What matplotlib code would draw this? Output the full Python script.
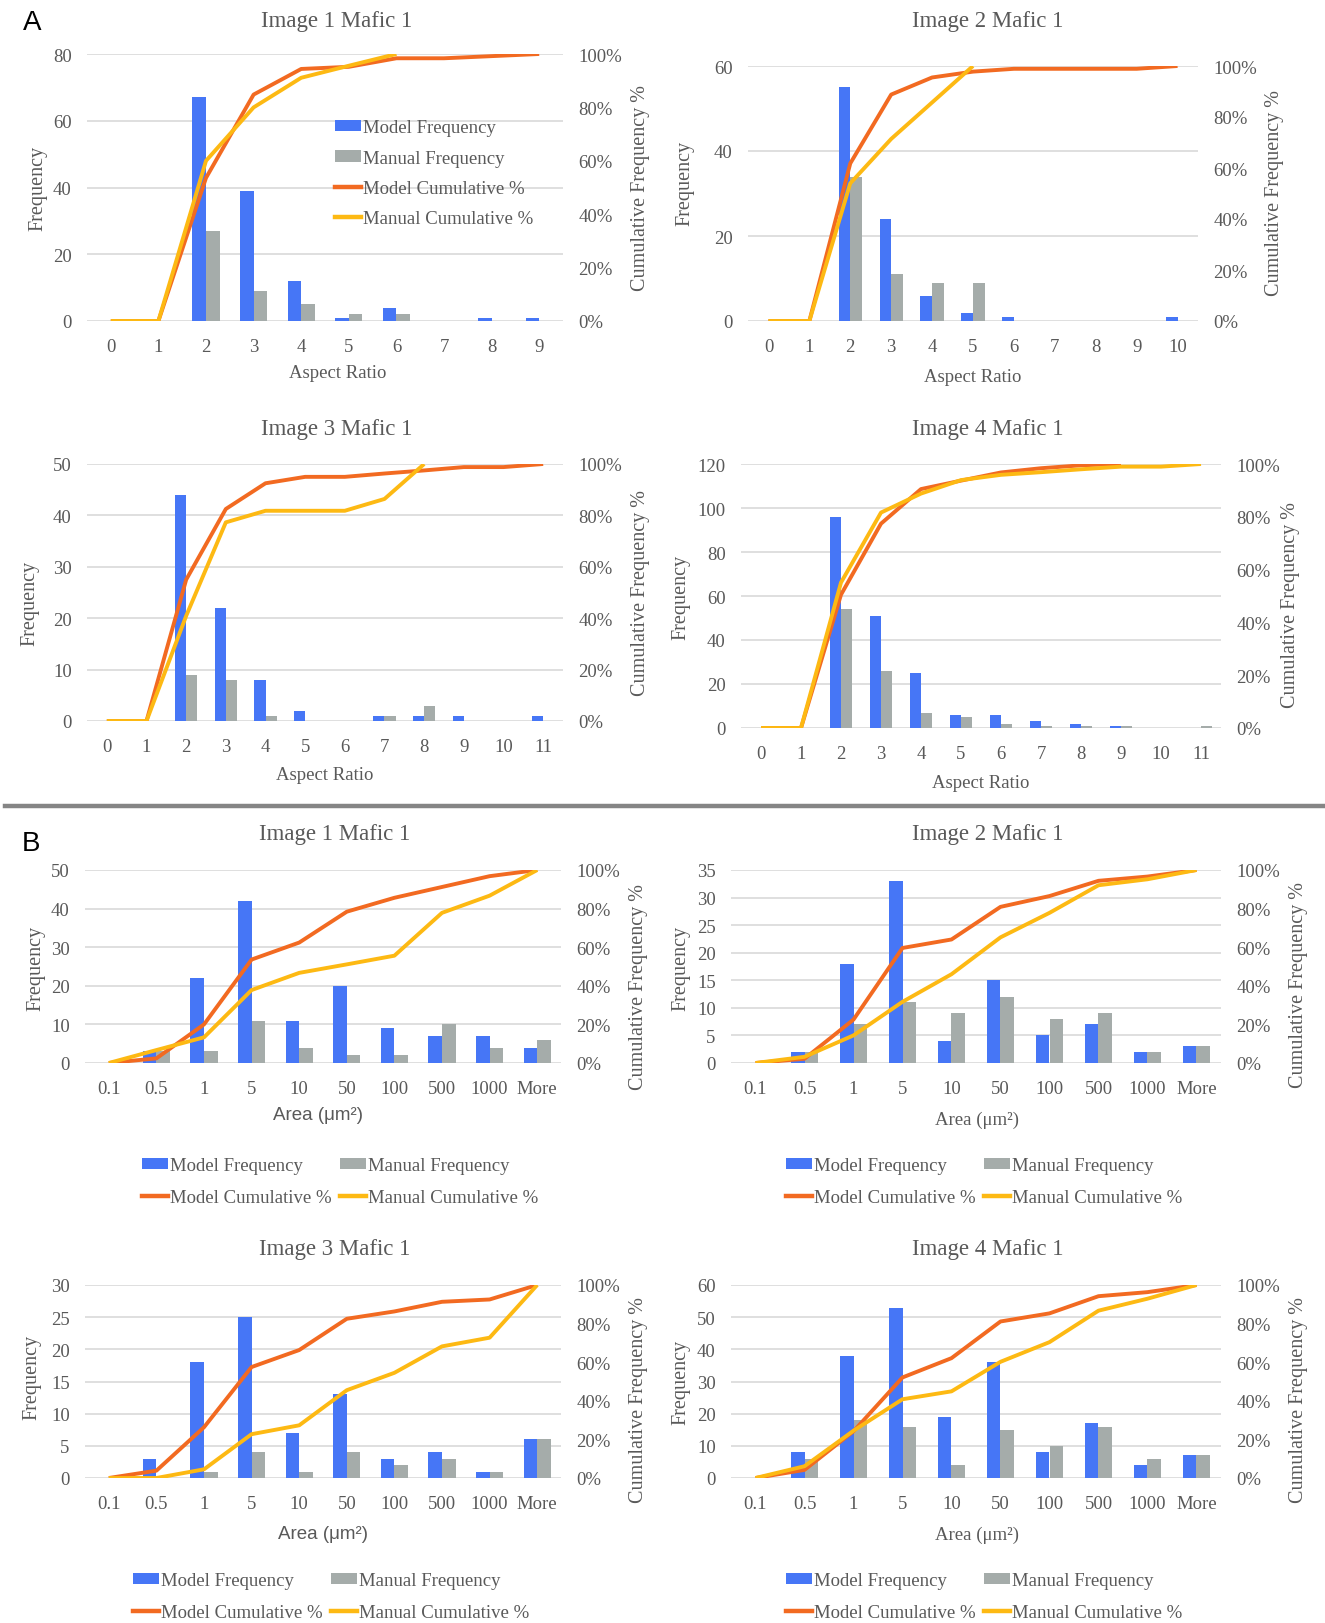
import matplotlib
matplotlib.use('Agg')
from matplotlib import pyplot as plt
from matplotlib.lines import Line2D
from matplotlib.patches import Patch

# Figure size in pixels (dpi 100)
W, H = 1325, 1624

# Colours
BLUE = '#4676F6'
GREY = '#A5ACAA'
ORANGE = '#F26A21'
YELLOW = '#FDB913'
TXT = '#595959'
GRID = '#D9D9D9'

SERIF = 'Liberation Serif'
SANS = 'Liberation Sans'

# Aspect ratio histograms (part A)
a1_cats = ['0', '1', '2', '3', '4', '5', '6', '7', '8', '9']
a1_model = [0, 0, 67, 39, 12, 1, 4, 0, 1, 1]
a1_manual = [0, 0, 27, 9, 5, 2, 2, 0, 0, 0]
a1_model_cum = [0, 0, 53.6, 84.8, 94.4, 95.2, 98.4, 98.4, 99.2, 100]
a1_manual_cum = [0, 0, 60.0, 80.0, 91.1, 95.6, 100]

a2_cats = ['0', '1', '2', '3', '4', '5', '6', '7', '8', '9', '10']
a2_model = [0, 0, 55, 24, 6, 2, 1, 0, 0, 0, 1]
a2_manual = [0, 0, 34, 11, 9, 9, 0, 0, 0, 0, 0]
a2_model_cum = [0, 0, 61.8, 88.8, 95.5, 97.8, 98.9, 98.9, 98.9, 98.9, 100]
a2_manual_cum = [0, 0, 54.0, 71.4, 85.7, 100]

a3_cats = ['0', '1', '2', '3', '4', '5', '6', '7', '8', '9', '10', '11']
a3_model = [0, 0, 44, 22, 8, 2, 0, 1, 1, 1, 0, 1]
a3_manual = [0, 0, 9, 8, 1, 0, 0, 1, 3, 0, 0, 0]
a3_model_cum = [0, 0, 55.0, 82.5, 92.5, 95.0, 95.0, 96.3, 97.5, 98.8, 98.8, 100]
a3_manual_cum = [0, 0, 40.9, 77.3, 81.8, 81.8, 81.8, 86.4, 100]

a4_cats = ['0', '1', '2', '3', '4', '5', '6', '7', '8', '9', '10', '11']
a4_model = [0, 0, 96, 51, 25, 6, 6, 3, 2, 1, 0, 0]
a4_manual = [0, 0, 54, 26, 7, 5, 2, 1, 1, 1, 0, 1]
a4_model_cum = [0, 0, 50.5, 77.4, 90.5, 93.7, 96.8, 98.4, 99.5, 100]
a4_manual_cum = [0, 0, 55.1, 81.6, 88.8, 93.9, 95.9, 96.9, 98.0, 99.0, 99.0, 100]

# Area histograms (part B)
area_cats = ['0.1', '0.5', '1', '5', '10', '50', '100', '500', '1000', 'More']

b1_model = [0, 3, 22, 42, 11, 20, 9, 7, 7, 4]
b1_manual = [0, 3, 3, 11, 4, 2, 2, 10, 4, 6]
b1_model_cum = [0, 2.4, 20.0, 53.6, 62.4, 78.4, 85.6, 91.2, 96.8, 100]
b1_manual_cum = [0, 6.7, 13.3, 37.8, 46.7, 51.1, 55.6, 77.8, 86.7, 100]

b2_model = [0, 2, 18, 33, 4, 15, 5, 7, 2, 3]
b2_manual = [0, 2, 7, 11, 9, 12, 8, 9, 2, 3]
b2_model_cum = [0, 2.2, 22.5, 59.6, 64.0, 80.9, 86.5, 94.4, 96.6, 100]
b2_manual_cum = [0, 3.2, 14.3, 31.7, 46.0, 65.1, 77.8, 92.1, 95.2, 100]

b3_model = [0, 3, 18, 25, 7, 13, 3, 4, 1, 6]
b3_manual = [0, 0, 1, 4, 1, 4, 2, 3, 1, 6]
b3_model_cum = [0, 3.8, 26.3, 57.5, 66.3, 82.5, 86.3, 91.3, 92.5, 100]
b3_manual_cum = [0, 0, 4.5, 22.7, 27.3, 45.5, 54.5, 68.2, 72.7, 100]

b4_model = [0, 8, 38, 53, 19, 36, 8, 17, 4, 7]
b4_manual = [0, 6, 18, 16, 4, 15, 10, 16, 6, 7]
b4_model_cum = [0, 4.2, 24.2, 52.1, 62.1, 81.1, 85.3, 94.2, 96.3, 100]
b4_manual_cum = [0, 6.1, 24.5, 40.8, 44.9, 60.2, 70.4, 86.7, 92.9, 100]

LABELS = ['Model Frequency', 'Manual Frequency', 'Model Cumulative %', 'Manual Cumulative %']

TICK_FS = 13.5
LABEL_FS = 13.5
TITLE_FS = 16.5
VLABEL_FS = 14.5
LEG_FS = 13.5

fig = plt.figure(figsize=(W / 100, H / 100), dpi=100)


def fx(x):
    return x / W


def fy(y):
    return 1 - y / H


def put_text(x, y, s, size, family=SERIF, rot=0, color=TXT):
    fig.text(fx(x), fy(y), s, ha='center', va='center', fontsize=size,
             family=family, rotation=rot, color=color)


def legend_handles():
    return [Patch(facecolor=BLUE), Patch(facecolor=GREY),
            Line2D([], [], color=ORANGE, lw=3.2),
            Line2D([], [], color=YELLOW, lw=3.2)]


LEG_KW = dict(frameon=False, borderpad=0, borderaxespad=0, handlelength=1.4,
              handleheight=0.55, handletextpad=0.1,
              prop={'family': SERIF, 'size': LEG_FS}, labelcolor=TXT)


# Draws one histogram panel: grouped bars + cumulative % lines on a twin axis
def panel(box, cats, model, manual, model_cum, manual_cum, ymax, ystep,
          title, title_xy, xlabel, xlabel_xy, xlabel_family, ylab_xy, cum_xy):
    l, t, r, b = box
    ax = fig.add_axes([fx(l), fy(b), (r - l) / W, (b - t) / H])
    n = len(cats)
    w = 0.285
    xs = list(range(n))
    ax.bar([x - w / 2 for x in xs], model, width=w, color=BLUE, zorder=2)
    ax.bar([x + w / 2 for x in xs], manual, width=w, color=GREY, zorder=2)
    ax.set_xlim(-0.5, n - 0.5)
    ax.set_ylim(0, ymax)
    ax.set_yticks(list(range(0, ymax + 1, ystep)))
    ax.set_xticks(xs)
    ax.set_xticklabels(cats)
    ax.grid(axis='y', color=GRID, lw=1.2)
    ax.set_axisbelow(True)
    ax.tick_params(length=0, labelsize=TICK_FS, labelcolor=TXT)
    ax.tick_params(axis='x', pad=12)
    ax.tick_params(axis='y', pad=11)
    for s in ax.spines.values():
        s.set_visible(False)
    for lab in ax.get_xticklabels() + ax.get_yticklabels():
        lab.set_family(SERIF)

    ax2 = ax.twinx()
    ax2.plot(range(len(model_cum)), model_cum, color=ORANGE, lw=2.8,
             solid_joinstyle='round', solid_capstyle='butt')
    ax2.plot(range(len(manual_cum)), manual_cum, color=YELLOW, lw=2.8,
             solid_joinstyle='round', solid_capstyle='butt')
    ax2.set_ylim(0, 100)
    ax2.set_yticks([0, 20, 40, 60, 80, 100])
    ax2.set_yticklabels([f'{v}%' for v in [0, 20, 40, 60, 80, 100]])
    ax2.tick_params(length=0, labelsize=TICK_FS, labelcolor=TXT, pad=11)
    for s in ax2.spines.values():
        s.set_visible(False)
    for lab in ax2.get_yticklabels():
        lab.set_family(SERIF)

    put_text(title_xy[0], title_xy[1], title, TITLE_FS)
    put_text(xlabel_xy[0], xlabel_xy[1], xlabel, LABEL_FS, family=xlabel_family)
    put_text(ylab_xy[0], ylab_xy[1], 'Frequency', VLABEL_FS, rot=90)
    put_text(cum_xy[0], cum_xy[1], 'Cumulative Frequency %', VLABEL_FS, rot=90)
    return ax


def bottom_legend(x, y):
    # column-major fill: frequencies on the first row, cumulative lines on the second
    h = legend_handles()
    fig.legend([h[0], h[2], h[1], h[3]],
               [LABELS[0], LABELS[2], LABELS[1], LABELS[3]],
               loc='upper left', bbox_to_anchor=(fx(x), fy(y)), ncol=2,
               columnspacing=0.45, labelspacing=0.8, **LEG_KW)


# Part A
panel((87, 55, 563, 322), a1_cats, a1_model, a1_manual, a1_model_cum, a1_manual_cum,
      80, 20, 'Image 1 Mafic 1', (337, 21), 'Aspect Ratio', (338, 373), SERIF,
      (38, 188), (640, 188))
fig.legend(legend_handles(), LABELS, loc='upper left',
           bbox_to_anchor=(fx(335), fy(120)), labelspacing=0.72, **LEG_KW)

panel((748, 67, 1198, 322), a2_cats, a2_model, a2_manual, a2_model_cum, a2_manual_cum,
      60, 20, 'Image 2 Mafic 1', (988, 21), 'Aspect Ratio', (973, 377), SERIF,
      (685, 183), (1275, 193))

panel((87, 465, 563, 722), a3_cats, a3_model, a3_manual, a3_model_cum, a3_manual_cum,
      50, 10, 'Image 3 Mafic 1', (337, 430), 'Aspect Ratio', (325, 776), SERIF,
      (30, 603), (640, 593))

panel((741, 465, 1221, 729), a4_cats, a4_model, a4_manual, a4_model_cum, a4_manual_cum,
      120, 20, 'Image 4 Mafic 1', (988, 430), 'Aspect Ratio', (981, 783), SERIF,
      (681, 597), (1290, 605))

# Divider between parts A and B
fig.add_artist(Line2D([fx(5), fx(W)], [fy(807), fy(807)], color='#858585', lw=3.2))

# Part B
panel((85, 871, 561, 1064), area_cats, b1_model, b1_manual, b1_model_cum, b1_manual_cum,
      50, 10, 'Image 1 Mafic 1', (335, 835), 'Area (μm²)', (318, 1116), SANS,
      (36, 968), (638, 987))
bottom_legend(142, 1158)

panel((731, 871, 1221, 1064), area_cats, b2_model, b2_manual, b2_model_cum, b2_manual_cum,
      35, 5, 'Image 2 Mafic 1', (988, 835), 'Area (μm²)', (977, 1120), SERIF,
      (681, 968), (1298, 985))
bottom_legend(786, 1158)

panel((85, 1286, 561, 1479), area_cats, b3_model, b3_manual, b3_model_cum, b3_manual_cum,
      30, 5, 'Image 3 Mafic 1', (335, 1250), 'Area (μm²)', (323, 1535), SANS,
      (32, 1377), (638, 1400))
bottom_legend(133, 1573)

panel((731, 1286, 1221, 1479), area_cats, b4_model, b4_manual, b4_model_cum, b4_manual_cum,
      60, 10, 'Image 4 Mafic 1', (988, 1250), 'Area (μm²)', (977, 1535), SERIF,
      (681, 1382), (1298, 1400))
bottom_legend(786, 1573)

# Panel letters
put_text(32, 23, 'A', 20, family=SANS, color='black')
put_text(31, 844, 'B', 20, family=SANS, color='black')

fig.savefig('out.png', dpi=100)
